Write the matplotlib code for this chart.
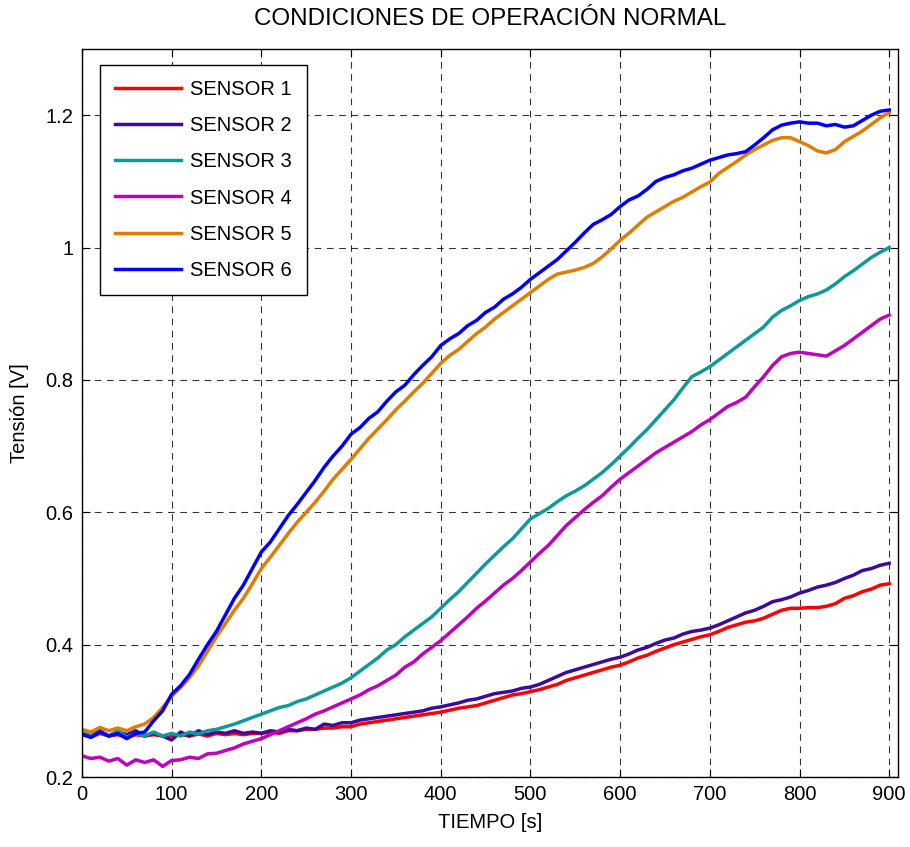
import matplotlib
matplotlib.use("Agg")
import matplotlib.pyplot as plt

plt.rcParams['font.family'] = ['Liberation Sans', 'DejaVu Sans']
plt.rcParams['font.size'] = 14.5

# time axis, one reading every 10 s
t = list(range(0, 901, 10))

sensor1 = [0.264, 0.260, 0.266, 0.262, 0.264, 0.260, 0.264, 0.262, 0.264, 0.262,
           0.262, 0.264, 0.262, 0.265, 0.262, 0.266, 0.264, 0.266, 0.264, 0.266,
           0.266, 0.268, 0.266, 0.270, 0.270, 0.272, 0.272, 0.274, 0.274, 0.276,
           0.276, 0.280, 0.282, 0.284, 0.286, 0.288, 0.290, 0.292, 0.294, 0.296,
           0.298, 0.301, 0.304, 0.306, 0.308, 0.312, 0.316, 0.320, 0.324, 0.326,
           0.329, 0.332, 0.336, 0.340, 0.346, 0.350, 0.354, 0.358, 0.362, 0.366,
           0.369, 0.374, 0.380, 0.384, 0.390, 0.395, 0.400, 0.404, 0.408, 0.412,
           0.415, 0.420, 0.426, 0.430, 0.434, 0.436, 0.440, 0.446, 0.452, 0.455,
           0.455, 0.456, 0.456, 0.458, 0.462, 0.470, 0.474, 0.480, 0.484, 0.490, 0.492]

sensor2 = [0.268, 0.262, 0.270, 0.262, 0.268, 0.264, 0.270, 0.262, 0.266, 0.262,
           0.256, 0.268, 0.262, 0.270, 0.264, 0.268, 0.266, 0.270, 0.266, 0.268,
           0.266, 0.270, 0.268, 0.272, 0.270, 0.274, 0.272, 0.280, 0.278, 0.282,
           0.282, 0.286, 0.288, 0.290, 0.292, 0.294, 0.296, 0.298, 0.300, 0.304,
           0.306, 0.309, 0.312, 0.316, 0.318, 0.322, 0.326, 0.328, 0.330, 0.334,
           0.336, 0.340, 0.346, 0.352, 0.358, 0.362, 0.366, 0.370, 0.374, 0.378,
           0.381, 0.386, 0.392, 0.396, 0.402, 0.407, 0.410, 0.416, 0.420, 0.422,
           0.425, 0.430, 0.436, 0.442, 0.448, 0.452, 0.458, 0.465, 0.468, 0.472,
           0.478, 0.482, 0.487, 0.490, 0.494, 0.500, 0.505, 0.512, 0.515, 0.520, 0.523]

sensor3 = [0.270, 0.262, 0.268, 0.262, 0.270, 0.260, 0.266, 0.262, 0.268, 0.262,
           0.266, 0.262, 0.268, 0.265, 0.270, 0.272, 0.276, 0.280, 0.285, 0.290,
           0.295, 0.300, 0.305, 0.308, 0.314, 0.318, 0.324, 0.330, 0.336, 0.342,
           0.350, 0.360, 0.370, 0.380, 0.392, 0.400, 0.412, 0.422, 0.432, 0.442,
           0.455, 0.468, 0.480, 0.494, 0.508, 0.522, 0.535, 0.548, 0.560, 0.575,
           0.590, 0.598, 0.606, 0.616, 0.625, 0.632, 0.640, 0.650, 0.660, 0.672,
           0.685, 0.698, 0.712, 0.725, 0.740, 0.755, 0.770, 0.788, 0.805, 0.812,
           0.820, 0.830, 0.840, 0.850, 0.860, 0.870, 0.880, 0.895, 0.905, 0.912,
           0.920, 0.926, 0.930, 0.936, 0.945, 0.956, 0.965, 0.975, 0.985, 0.993, 1.000]

sensor4 = [0.232, 0.228, 0.230, 0.224, 0.228, 0.218, 0.226, 0.222, 0.226, 0.216,
           0.225, 0.226, 0.230, 0.228, 0.235, 0.236, 0.240, 0.244, 0.250, 0.254,
           0.258, 0.264, 0.270, 0.276, 0.282, 0.288, 0.295, 0.300, 0.306, 0.312,
           0.318, 0.324, 0.332, 0.338, 0.346, 0.354, 0.366, 0.374, 0.386, 0.396,
           0.406, 0.418, 0.430, 0.442, 0.455, 0.466, 0.478, 0.490, 0.500, 0.512,
           0.525, 0.538, 0.550, 0.565, 0.580, 0.592, 0.604, 0.615, 0.625, 0.638,
           0.650, 0.660, 0.670, 0.680, 0.690, 0.698, 0.706, 0.714, 0.722, 0.732,
           0.740, 0.750, 0.760, 0.766, 0.774, 0.790, 0.805, 0.822, 0.835, 0.840,
           0.842, 0.840, 0.838, 0.836, 0.844, 0.852, 0.862, 0.872, 0.882, 0.892, 0.898]

sensor5 = [0.272, 0.268, 0.275, 0.270, 0.274, 0.270, 0.276, 0.280, 0.290, 0.305,
           0.322, 0.335, 0.350, 0.368, 0.390, 0.412, 0.432, 0.452, 0.470, 0.492,
           0.515, 0.532, 0.550, 0.568, 0.585, 0.600, 0.615, 0.632, 0.650, 0.665,
           0.680, 0.696, 0.712, 0.726, 0.740, 0.755, 0.768, 0.782, 0.795, 0.810,
           0.825, 0.837, 0.846, 0.858, 0.870, 0.880, 0.892, 0.902, 0.912, 0.922,
           0.932, 0.942, 0.952, 0.960, 0.963, 0.966, 0.970, 0.976, 0.986, 0.998,
           1.011, 1.022, 1.034, 1.046, 1.054, 1.062, 1.070, 1.076, 1.084, 1.092,
           1.099, 1.112, 1.121, 1.130, 1.140, 1.148, 1.155, 1.162, 1.166, 1.166,
           1.160, 1.154, 1.146, 1.143, 1.148, 1.160, 1.168, 1.176, 1.186, 1.196, 1.204]

sensor6 = [0.265, 0.260, 0.268, 0.262, 0.266, 0.258, 0.266, 0.268, 0.285, 0.300,
           0.325, 0.338, 0.355, 0.378, 0.400, 0.420, 0.445, 0.470, 0.490, 0.515,
           0.540, 0.555, 0.575, 0.595, 0.612, 0.630, 0.648, 0.668, 0.685, 0.700,
           0.718, 0.728, 0.742, 0.752, 0.768, 0.782, 0.792, 0.808, 0.822, 0.835,
           0.852, 0.862, 0.870, 0.882, 0.890, 0.902, 0.910, 0.922, 0.930, 0.940,
           0.952, 0.962, 0.972, 0.982, 0.995, 1.008, 1.022, 1.035, 1.042, 1.050,
           1.062, 1.072, 1.078, 1.088, 1.100, 1.106, 1.110, 1.116, 1.120, 1.126,
           1.132, 1.136, 1.140, 1.142, 1.145, 1.155, 1.166, 1.178, 1.185, 1.188,
           1.190, 1.188, 1.188, 1.184, 1.186, 1.182, 1.184, 1.192, 1.200, 1.206, 1.208]

labels = ['SENSOR 1', 'SENSOR 2', 'SENSOR 3', 'SENSOR 4', 'SENSOR 5', 'SENSOR 6']
colors = ['#ff0000', '#3d0a99', '#0f9999', '#bf00bf', '#e07c00', '#0000ff']
series = [sensor1, sensor2, sensor3, sensor4, sensor5, sensor6]

xticks = list(range(0, 901, 100))
yticks = [0.2, 0.4, 0.6, 0.8, 1.0, 1.2]
ytick_labels = ['0.2', '0.4', '0.6', '0.8', '1', '1.2']

fig = plt.figure(figsize=(9.1, 8.47), dpi=100)
ax = fig.add_axes([0.090, 0.0826, 0.897, 0.8595])

for y, c, lab in zip(series, colors, labels):
    ax.plot(t, y, color=c, lw=2.5, label=lab)

ax.set_xlim(0, 910)
ax.set_ylim(0.2, 1.3)
ax.set_xticks(xticks)
ax.set_yticks(yticks)
ax.set_yticklabels(ytick_labels)
ax.grid(True, color='k', linestyle=(0, (6, 5)), lw=0.8, alpha=0.8)
ax.tick_params(direction='in', length=6, width=0.8, top=True, right=True, pad=6)
for s in ax.spines.values():
    s.set_linewidth(1.0)

ax.set_title('CONDICIONES DE OPERACIÓN NORMAL', pad=17)
ax.set_xlabel('TIEMPO [s]', labelpad=6)
ax.set_ylabel('Tensión [V]', labelpad=12)

leg = ax.legend(loc='upper left', bbox_to_anchor=(0.022, 0.978), borderaxespad=0,
                fancybox=False, edgecolor='k', framealpha=1, handlelength=3.3,
                handletextpad=0.45, labelspacing=0.85, borderpad=0.75)
leg.get_frame().set_linewidth(1.0)

fig.savefig('out.png', dpi=100)
